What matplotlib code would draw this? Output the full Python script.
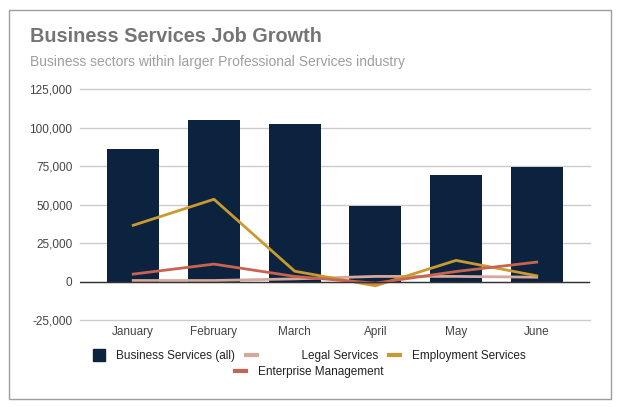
import matplotlib.pyplot as plt
from matplotlib.patches import Rectangle
from matplotlib.lines import Line2D
from matplotlib.ticker import FuncFormatter

plt.rcParams['font.family'] = ['Liberation Sans', 'DejaVu Sans']

meses = ['January', 'February', 'March', 'April', 'May', 'June']
business_all = [85900, 104800, 102200, 48800, 69000, 74200]
legal = [650, 650, 1700, 3300, 3300, 2800]
employment = [36500, 53400, 6700, -2800, 13700, 3700]
enterprise = [4800, 11300, 3300, -1100, 6500, 12600]

c_bar = '#0c2340'
c_legal = '#d4a99b'
c_emp = '#c99a2e'
c_ent = '#c8634f'

fig = plt.figure(figsize=(6.21, 4.07), dpi=100)
fig.set_facecolor('white')

# marco gris alrededor de todo
fig.patches.append(Rectangle((8.5 / 621, 8.5 / 407), 602 / 621, 389 / 407,
                             transform=fig.transFigure, fill=False,
                             edgecolor='#9e9e9e', linewidth=1))

ax = fig.add_axes([80 / 621, (407 - 320) / 407, 510 / 621, 231 / 407])
x = list(range(len(meses)))

ax.bar(x, business_all, width=0.645, color=c_bar, zorder=2)
ax.plot(x, legal, color=c_legal, linewidth=2, zorder=3)
ax.plot(x, employment, color=c_emp, linewidth=2, zorder=3)
ax.plot(x, enterprise, color=c_ent, linewidth=2, zorder=3)

ax.set_xlim(-0.66, 5.66)
ax.set_ylim(-25000, 125000)
ax.set_yticks(range(-25000, 125001, 25000))
ax.yaxis.set_major_formatter(FuncFormatter(lambda v, p: f'{int(v):,}'))
ax.set_xticks(x)
ax.set_xticklabels(meses)
ax.grid(axis='y', color='#cccccc', linewidth=1, zorder=0)
for gl in ax.get_ygridlines():
    gl.set_clip_on(False)
ax.axhline(0, color='#333333', linewidth=1, zorder=4)
for s in ax.spines.values():
    s.set_visible(False)
ax.tick_params(axis='both', length=0, labelsize=8.5, colors='#444444')
ax.tick_params(axis='x', pad=4.5)
ax.tick_params(axis='y', pad=5.5)

fig.text(30 / 621, 1 - 37 / 407, 'Business Services Job Growth', fontsize=14.3,
         fontweight='bold', color='#757575', va='center')
fig.text(30 / 621, 1 - 62 / 407, 'Business sectors within larger Professional Services industry',
         fontsize=10, color='#9e9e9e', va='center')

# leyenda en dos filas
h1 = [Line2D([], [], marker='s', linestyle='', markersize=8, color=c_bar),
      Line2D([], [], color=c_legal, linewidth=3),
      Line2D([], [], color=c_emp, linewidth=3)]
fig.legend(h1, ['Business Services (all)', '          Legal Services', 'Employment Services'],
           loc='center', bbox_to_anchor=(309.5 / 621, 1 - 356 / 407), ncol=3,
           frameon=False, fontsize=8.5, handlelength=0.95, handletextpad=1.0,
           columnspacing=0.9, labelcolor='#222222')
h2 = [Line2D([], [], color=c_ent, linewidth=3)]
fig.legend(h2, ['Enterprise Management'], loc='center',
           bbox_to_anchor=(309.5 / 621, 1 - 372 / 407), frameon=False, fontsize=8.5,
           handlelength=0.95, handletextpad=1.0, labelcolor='#222222')

fig.savefig('out.png', dpi=100)
